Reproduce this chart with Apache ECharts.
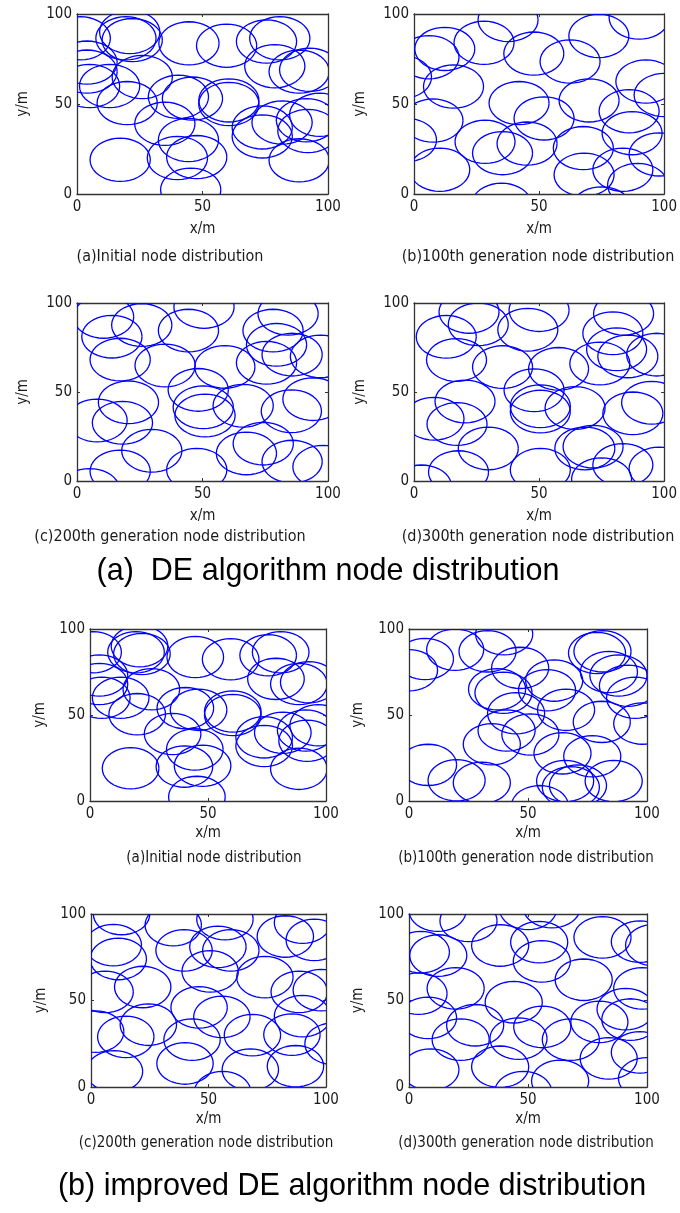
<!DOCTYPE html>
<html><head><meta charset="utf-8">
<script src="https://cdn.jsdelivr.net/npm/echarts@6/dist/echarts.min.js"></script>
<style>html,body{margin:0;padding:0;background:#fff}#c{width:680px;height:1213px}</style>
</head><body><div id="c"></div>
<script>
// ---- data ----
const R = 12; // sensing radius (m)
const axisTicks = [0, 50, 100];
const initialNodes = [[17.2,19],[45.3,2.4],[44.4,30],[47.7,20.5],[40,20],[35,39],[40.4,54],[46,53],[60.5,52],[60.5,50],[20,50.5],[13,60],[4,68],[26,65],[19.5,86.5],[22,85.5],[21,90],[1.3,86.5],[44.6,83.7],[59.6,82.4],[75.5,84.7],[80.8,86.5],[78.8,71],[88.5,68],[92.7,69],[73.8,37],[81.7,39.7],[91.4,41],[96.7,44],[92,35],[88.5,18.7],[73.8,32],[4,73],[5,60]];
const deGen100 = [[12.3,80.6],[6,76],[28,84],[37.6,96.7],[47.9,78],[62.4,73.6],[73.9,87.8],[90,98],[92.7,62.5],[100,55],[86,46],[70,52],[15.8,59.7],[7.6,40.8],[42,50.5],[52,42],[28.4,29],[35.4,22.7],[45.2,28],[10.3,13.5],[67.7,25.5],[87.2,33.8],[68,10.7],[83.5,13.5],[89.4,5],[98,22],[35,-6],[75,-8],[-5,65],[-3,30]];
const deGen200 = [[13.9,81.1],[25.8,87.6],[10.6,92.2],[17.2,68.2],[44.4,84.5],[50.6,97.8],[35.1,64.9],[58.9,64.1],[78.1,84.5],[84.1,94],[75.5,66.4],[85.7,71],[79.5,76.5],[97,70],[48.3,51.2],[50.3,41.4],[51,36.8],[66.2,42.3],[85.4,39.2],[94,46],[20.5,44.2],[8,34],[18.1,32.7],[29.8,17],[17.2,5.4],[47.7,6.3],[67.5,15.5],[74.2,21],[85.7,10.9],[98,8],[5,-5]];
const deGen300 = [[12.9,81],[25.7,88],[22,95],[17,68],[45.5,85],[50,96],[35.4,64],[57.8,63],[79.5,83],[83.8,94],[74.3,66],[85.5,70],[81,74],[97,71],[48,51],[50.5,42],[50.5,39],[64.4,41],[87.5,38],[95,44],[20.4,44.7],[8,35],[17.2,32],[29.7,18.3],[17.8,5],[50.5,6.3],[68.3,18.3],[71.6,19.3],[83.5,9],[98,7],[3,-3],[75,1]];
const impGen100 = [[19.4,88],[6.7,82.6],[0,76],[33,87],[40,97],[46.7,77.4],[37,65],[39.7,62.9],[58,64.4],[61,70],[79,86],[81.3,87],[84,75],[88,73],[92,67],[95,60],[45,51],[41,41],[51,38.7],[34.8,33],[66,53],[81,46],[98,45],[64.5,27.7],[77,26],[8,21],[20,12],[30.6,10.6],[65.6,11.6],[68,8],[71,9],[86,11.6],[55,-3]];
const impGen200 = [[13,100],[35,93.6],[57,97],[90,95],[82.7,87],[95,85],[9.5,82],[11.6,74],[39.6,79],[54,81],[59.5,79],[50.7,66.8],[74,63.5],[88.6,55],[98,56],[22,57.8],[6,55],[46,46],[55.7,40.5],[24.4,36],[14.8,29],[2,32],[43,27.4],[68.7,30],[85.5,30.3],[90,41],[103,25],[40,13.6],[10,9],[67.8,10],[87,12],[56,-3]];
const impGen300 = [[12,102],[25,96],[50,103],[60,104],[12.3,76],[5,78],[38.3,81.8],[54.7,83.7],[55.8,72.6],[81.3,86.5],[97,84],[103,82],[73.4,62],[98,57],[19.6,57],[4,54],[44,49],[91,45],[93,39],[80,37.6],[27.8,35.7],[8,40],[21.7,27.4],[46,28],[56,34.7],[68,27.4],[83.9,16.5],[97,20],[9,10],[38.3,11.7],[63.5,3.5],[48,-3],[100,5]];
const panelData = [initialNodes, deGen100, deGen200, deGen300, initialNodes, impGen100, impGen200, impGen300];
const subtitles = ['(a)Initial node distribution','(b)100th generation node distribution','(c)200th generation node distribution','(d)300th generation node distribution','(a)Initial node distribution','(b)100th generation node distribution','(c)200th generation node distribution','(d)300th generation node distribution'];
const figureTitles = ['(a)  DE algorithm node distribution','(b) improved DE algorithm node distribution'];
const xName = 'x/m', yName = 'y/m';

// ---- layout ----
const grids = [
 {left:77, top:14, width:251, height:180},
 {left:414, top:14, width:253, height:180},
 {left:77, top:303, width:251, height:178},
 {left:414, top:303, width:253, height:178},
 {left:90, top:629, width:236, height:172},
 {left:409, top:629, width:238, height:172},
 {left:91, top:914, width:235, height:173},
 {left:409, top:914, width:238, height:173}
];
const xGap = [28,28,28,28,25,25,25,25];
const yGap = [46,46,46,46,42,43,42,43];
const subY = [257,257,537,537,858,858,1143,1143];
const subX = [170,538,170,538,214,526,206,526];
const subSize = [16,16,16,16,15,15,15,15];
const titleY = [572, 1187];
const titleX = [328, 352];
const NARROW = "'Liberation Sans Narrow','DejaVu Sans Condensed','Arial Narrow',sans-serif";
const lineCol = '#333', txtCol = '#1a1a1a';

const xAxes = [], yAxes = [], series = [], graphics = [];
grids.forEach((g, i) => {
  const base = {type:'value', min:0, max:100, interval:50, gridIndex:i,
    splitLine:{show:false}, axisLine:{show:true, onZero:false, lineStyle:{color:lineCol, width:1.3}},
    axisTick:{show:true, inside:true, length:3, lineStyle:{color:lineCol}}};
  xAxes.push(Object.assign({}, base, {position:'bottom', name:xName, nameLocation:'middle', nameGap:xGap[i],
    nameTextStyle:{fontFamily:NARROW, fontSize:15, color:txtCol},
    axisLabel:{fontFamily:NARROW, fontSize:15, color:txtCol, margin:6}}));
  xAxes.push(Object.assign({}, base, {position:'top', axisLabel:{show:false}}));
  yAxes.push(Object.assign({}, base, {position:'left', name:yName, nameLocation:'middle', nameGap:yGap[i], nameRotate:90,
    nameTextStyle:{fontFamily:NARROW, fontSize:15, color:txtCol},
    axisLabel:{fontFamily:NARROW, fontSize:15, color:txtCol, margin:5}}));
  yAxes.push(Object.assign({}, base, {position:'right', axisLabel:{show:false}}));
  series.push({
    type:'custom', xAxisIndex:2*i, yAxisIndex:2*i, clip:true, silent:true, animation:false,
    data: panelData[i],
    renderItem: function(params, api){
      const cx = api.value(0), cy = api.value(1);
      const pts = [];
      for (let k = 0; k <= 40; k++) {
        const t = k / 40 * Math.PI * 2;
        pts.push(api.coord([cx + R*Math.cos(t), cy + R*Math.sin(t)]));
      }
      const cs = params.coordSys;
      return {type:'group', clipPath:{type:'rect', shape:{x:cs.x, y:cs.y, width:cs.width, height:cs.height}},
        children:[{type:'polyline', shape:{points:pts}, style:{stroke:'#0000ff', lineWidth:1.3, fill:null}}]};
    }
  });
  graphics.push({type:'text', x:subX[i], y:subY[i], silent:true,
    style:{text:subtitles[i], textAlign:'center', textVerticalAlign:'middle', font:subSize[i] + "px " + NARROW, fill:txtCol}});
});
figureTitles.forEach((t, j) => {
  graphics.push({type:'text', x:titleX[j], y:titleY[j], silent:true,
    style:{text:t, textAlign:'center', textVerticalAlign:'middle', font:"30.5px 'Liberation Sans', Arial, sans-serif", fill:'#000'}});
});

const chart = echarts.init(document.getElementById('c'), null, {renderer:'canvas'});
chart.setOption({
  animation:false,
  backgroundColor:'#fff',
  grid: grids.map(g => Object.assign({containLabel:false}, g)),
  xAxis: xAxes, yAxis: yAxes, series: series, graphic: graphics
});
</script></body></html>
